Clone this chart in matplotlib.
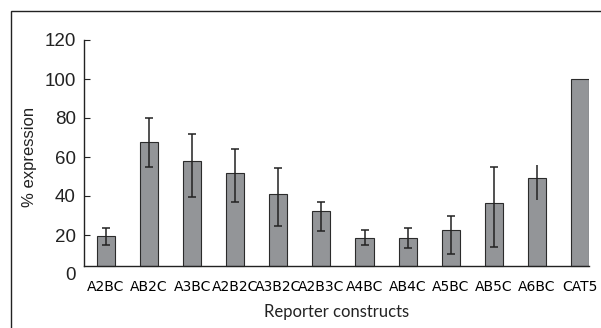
import numpy as np
import matplotlib
matplotlib.use("Agg")
import matplotlib.pyplot as plt
from matplotlib.patches import Rectangle

# data
constructs = ['A2BC', 'AB2C', 'A3BC', 'A2B2C', 'A3B2C', 'A2B3C',
              'A4BC', 'AB4C', 'A5BC', 'AB5C', 'A6BC', 'CAT5']
expression = [19.5, 67.8, 57.8, 51.6, 41.2, 32.5, 18.5, 18.5, 22.6, 36.4, 49.1, 100.0]
err_low = [4.8, 13.1, 18.2, 14.7, 16.6, 10.6, 3.5, 5.3, 12.2, 22.4, 11.3, 0.0]
err_high = [4.2, 12.4, 14.1, 12.3, 13.0, 4.3, 4.2, 5.1, 7.3, 18.3, 6.8, 0.0]
y_ticks = [0, 20, 40, 60, 80, 100, 120]

# the x axis line in the original sits a little above zero
axis_base = 4.1

fig = plt.figure(figsize=(6.01, 3.28), dpi=100)
ax = fig.add_axes([84 / 601, 54 / 328, 505 / 601, 234 / 328])

x = np.arange(len(constructs))
heights = np.array(expression) - axis_base
ax.bar(x, heights, bottom=axis_base, width=0.42, color='#939598',
       edgecolor='#2b2b2b', linewidth=0.8, zorder=2)

# error bars (A6BC has no caps in the original)
for i in range(len(constructs)):
    if err_low[i] == 0 and err_high[i] == 0:
        continue
    cap = 0 if constructs[i] == 'A6BC' else 3
    ax.errorbar(x[i], expression[i], yerr=[[err_low[i]], [err_high[i]]],
                fmt='none', ecolor='#222222', elinewidth=1.1, capsize=cap, capthick=1.1, zorder=3)

ax.set_xlim(-0.51, 11.21)
ax.set_ylim(0, 120)
ax.set_yticks(y_ticks)
ax.set_yticklabels([str(v) for v in y_ticks], fontsize=13.5, family='Liberation Sans', color='#222222')
ax.set_xticks(x)
ax.set_xticklabels(constructs, fontsize=6.2, family='DejaVu Sans', color='#222222')
ax.tick_params(axis='x', length=0, pad=10)
ax.tick_params(axis='y', direction='in', length=4.5, width=0.8, color='#222222', pad=6)
ax.yaxis.get_major_ticks()[0].tick1line.set_visible(False)

for s in ['top', 'right']:
    ax.spines[s].set_visible(False)
ax.spines['bottom'].set_position(('data', axis_base))
ax.spines['left'].set_bounds(axis_base, 120)
for s in ['left', 'bottom']:
    ax.spines[s].set_color('#222222')
    ax.spines[s].set_linewidth(1.0)

ax.set_ylabel('% expression', fontsize=12, family='Liberation Sans', color='#222222', labelpad=5)
ax.set_xlabel('Reporter constructs', fontsize=12, family='Lato', color='#222222', labelpad=7)

# outer frame, cut by the image edge at right and bottom
fig.patches.append(Rectangle((11 / 601, -0.05), 1.0, (328 - 11) / 328 + 0.05,
                             transform=fig.transFigure, fill=False,
                             edgecolor='#222222', linewidth=1.0))

fig.savefig('out.png', dpi=100)
